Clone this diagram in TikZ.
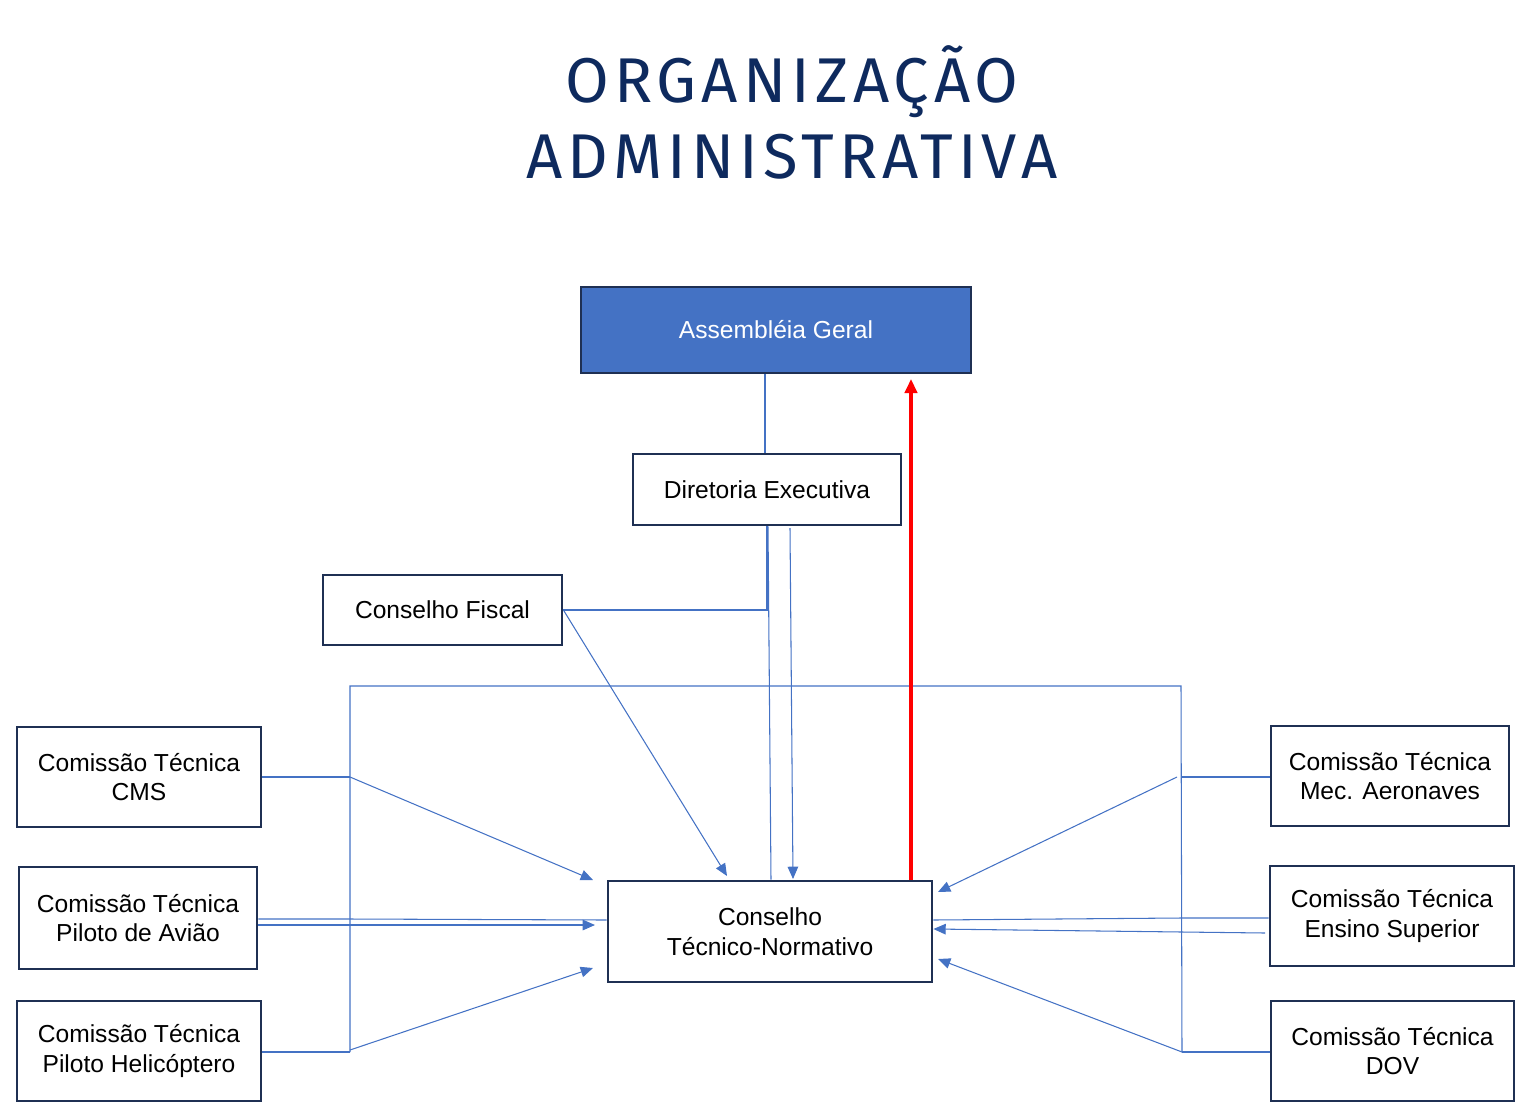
\documentclass[tikz,border=0pt]{standalone}
\usepackage{fontspec}
\setmainfont{Liberation Sans}
\newfontfamily\titlefont[LetterSpace=8]{Fira Sans}
\usetikzlibrary{arrows.meta}
\definecolor{navy}{HTML}{1F3053}
\definecolor{titleblue}{HTML}{0E2A5E}
\definecolor{lblue}{HTML}{4472C4}
\tikzset{
 box/.style={draw=navy,line width=1.6pt,inner sep=0pt,font=\fontsize{14}{17}\selectfont,align=center},
 ln/.style={draw=lblue,line width=0.6pt},
 arr/.style={ln,-{Triangle[length=7pt,width=6pt]}},
}
\begin{document}
\begin{tikzpicture}[x=0.02cm,y=-0.02cm]
\useasboundingbox (0,0) rectangle (1522,1103);
\node[font=\titlefont\fontsize{36}{40}\selectfont,text=titleblue] (t1) at (792,82) {ORGANIZAÇÃO};
\node[font=\titlefont\fontsize{36}{40}\selectfont,text=titleblue] (t2) at (792,157) {ADMINISTRATIVA};
\newcommand{\bx}[6]{\node[box,minimum width={(#4-#2)*0.02cm},minimum height={(#5-#3)*0.02cm}] (#1) at ({(#2+#4)/2},{(#3+#5)/2}) {#6};}
\node[box,fill=lblue,text=white,minimum width=7.8cm,minimum height=1.72cm] (ag) at (776,330) {Assembléia Geral};
\bx{de}{633}{454}{901}{525}{Diretoria Executiva}
\bx{cf}{323}{575}{562}{645}{Conselho Fiscal}
\bx{ctn}{608}{881}{932}{982}{Conselho\\Técnico-Normativo}
\bx{cms}{17}{727}{261}{827}{Comissão Técnica\\CMS}
\bx{pa}{19}{867}{257}{969}{Comissão Técnica\\Piloto de Avião}
\bx{ph}{17}{1001}{261}{1101}{Comissão Técnica\\Piloto Helicóptero}
\bx{ma}{1271}{726}{1509}{826}{Comissão Técnica\\Mec. Aeronaves}
\bx{es}{1270}{866}{1514}{966}{Comissão Técnica\\Ensino Superior}
\bx{dov}{1271}{1001}{1514}{1101}{Comissão Técnica\\DOV}
% connectors
\draw[ln] (ag.south -| 765,0) -- (de.north -| 765,0);
\draw[ln] (de.south -| 767,0) -- (767,610) -- (cf.east);
\draw[ln] (de.south -| 768,0) -- (ctn.north -| 771,0);
\draw[arr] (790,528) -- (793,879);
\draw[arr] (cf.east) -- (727,876);
\coordinate (lt) at (350,686); \coordinate (rt) at (1181,686);
\draw[ln] (350,1052) -- (lt) -- (rt) -- (1182,1052);
\draw[ln] (cms.east |- 0,777) -- (350,777);
\draw[arr] (350,777) -- (593,880);
\draw[ln] (pa.east |- 0,919) -- (350,919) -- (ctn.west |- 0,920);
\draw[arr] (pa.east |- 0,925) -- (595,925);
\draw[ln] (ph.east |- 0,1052) -- (350,1052);
\draw[arr] (350,1050) -- (593,968);
\draw[ln] (ma.west |- 0,777) -- (1181,777);
\draw[arr] (1177,777) -- (938,892);
\draw[ln] (es.west |- 0,918) -- (1181,918) -- (ctn.east |- 0,920);
\draw[arr] (1265,933) -- (ctn.east |- 0,929);
\draw[ln] (dov.west |- 0,1052) -- (1182,1052);
\draw[arr] (1182,1052) -- (938,959);
\draw[red,line width=2.2pt,-{Triangle[length=8pt,width=7pt]}] (ctn.north -| 911,0) -- (911,379);
\end{tikzpicture}
\end{document}
